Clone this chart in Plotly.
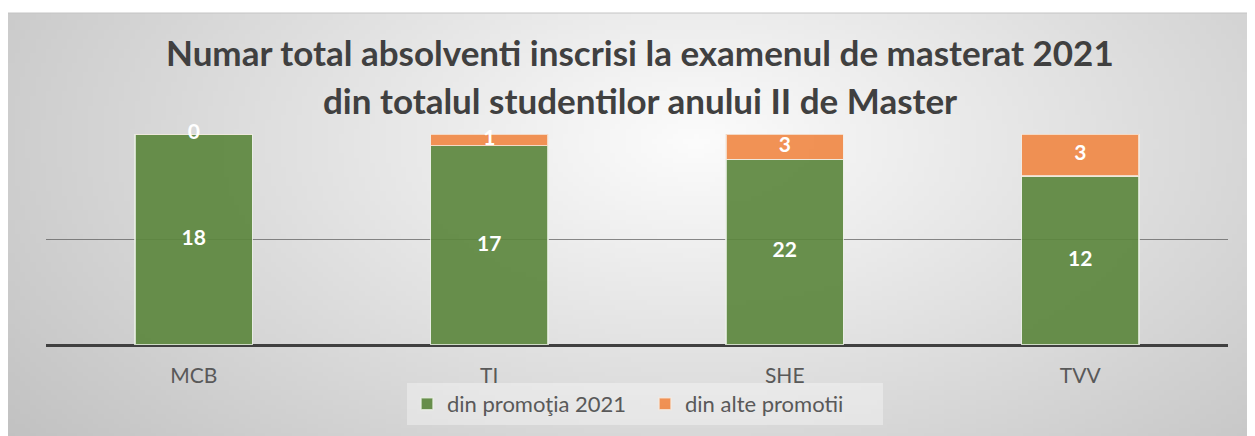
import base64
import struct
import zlib
import plotly.graph_objects as go

# data (counts per programme)
categories = ["MCB", "TI", "SHE", "TVV"]
promotia_2021 = [18, 17, 22, 12]
alte_promotii = [0, 1, 3, 3]
title_lines = ["Numar total absolventi inscrisi la examenul de masterat 2021",
               "din totalul studentilor anului II de Master"]

totals = [a + b for a, b in zip(promotia_2021, alte_promotii)]
pct_green = [a / t * 100 for a, t in zip(promotia_2021, totals)]
pct_orange = [b / t * 100 for b, t in zip(alte_promotii, totals)]


def gradient_png(w=240, h=90):
    # radial grey gradient like the excel chart area
    rows = b""
    for j in range(h):
        row = b"\x00"
        for i in range(w):
            dx = (i / (w - 1) - 0.55) / 0.55
            dy = (j / (h - 1) - 0.3) / 0.9
            d = min((dx * dx + dy * dy) ** 0.5, 1.3)
            v = int(252 - 46 * d)
            row += bytes([v, v, v])
        rows += row

    def chunk(tag, data):
        c = struct.pack(">I", len(data)) + tag + data
        return c + struct.pack(">I", zlib.crc32(tag + data) & 0xffffffff)

    png = b"\x89PNG\r\n\x1a\n"
    png += chunk(b"IHDR", struct.pack(">IIBBBBB", w, h, 8, 2, 0, 0, 0))
    png += chunk(b"IDAT", zlib.compress(rows))
    png += chunk(b"IEND", b"")
    return "data:image/png;base64," + base64.b64encode(png).decode()


OFF = 8  # page body margin
W, H = 1255 - OFF, 436 - OFF
# plot area in window pixels: x 46..1228, y 134..345
L, T = 46 - OFF, 134 - OFF
R, B = W - (1228 - OFF), H - (345 - OFF)
pw, ph = W - L - R, H - T - B


def px_x(x):
    return (x - OFF - L) / pw


def px_y(y):
    return (H - B - (y - OFF)) / ph


fig = go.Figure()
fig.add_trace(go.Bar(x=categories, y=pct_green, name="din promoţia 2021",
                     marker=dict(color="rgba(92,135,62,0.92)",
                                 line=dict(color="rgba(235,240,230,0.8)", width=1.5))))
fig.add_trace(go.Bar(x=categories, y=pct_orange, name="din alte promotii",
                     marker=dict(color="rgba(240,137,70,0.92)",
                                 line=dict(color="rgba(245,235,225,0.8)", width=1.5))))

# data labels at the middle of each segment
lbl_font = dict(family="Lato", size=21, color="white", weight="bold")
fig.add_trace(go.Scatter(
    x=categories, y=[g / 2 for g in pct_green], mode="text",
    text=[str(v) for v in promotia_2021], showlegend=False, hoverinfo="skip",
    textfont=lbl_font, cliponaxis=False))
fig.add_trace(go.Scatter(
    x=categories, y=[g + o / 2 for g, o in zip(pct_green, pct_orange)], mode="text",
    text=[str(v) for v in alte_promotii], showlegend=False, hoverinfo="skip",
    textfont=lbl_font, cliponaxis=False))

fig.add_layout_image(dict(source=gradient_png(), xref="paper", yref="paper",
                          x=px_x(7), y=px_y(13), sizex=px_x(1260) - px_x(7),
                          sizey=px_y(13) - px_y(440), sizing="stretch",
                          xanchor="left", yanchor="top", layer="below"))
fig.add_shape(type="line", xref="paper", yref="paper", x0=px_x(7), x1=px_x(1260),
              y0=px_y(13), y1=px_y(13), line=dict(color="#c4c4c4", width=1),
              layer="below")

for i, line in enumerate(title_lines):
    fig.add_annotation(text=line, xref="paper", yref="paper", x=px_x(640),
                       y=px_y(52 + 48 * i), showarrow=False, xanchor="center",
                       yanchor="middle",
                       font=dict(family="Lato", size=35, color="#404040", weight="bold"))

fig.update_layout(
    width=W, height=H, barmode="stack", bargap=0.604,
    margin=dict(l=L, r=R, t=T, b=B, autoexpand=False),
    paper_bgcolor="white", plot_bgcolor="rgba(0,0,0,0)",
    font=dict(family="Lato", color="#595959"),
    legend=dict(orientation="h", x=px_x(645), xanchor="center", y=px_y(383),
                yanchor="top", bgcolor="rgba(255,255,255,0.35)",
                font=dict(size=22, color="#595959"), traceorder="normal",
                entrywidth=193, itemwidth=30),
    showlegend=True,
)
fig.update_xaxes(showgrid=False, showline=False, ticks="",
                 tickfont=dict(size=21, color="#595959"), ticklabelstandoff=16)
fig.update_yaxes(range=[0, 100], dtick=50, showticklabels=False,
                 gridcolor="rgba(90,90,90,0.7)", gridwidth=1, zeroline=True,
                 zerolinecolor="#404040", zerolinewidth=3, layer="above traces")

fig.write_html("out.html")
